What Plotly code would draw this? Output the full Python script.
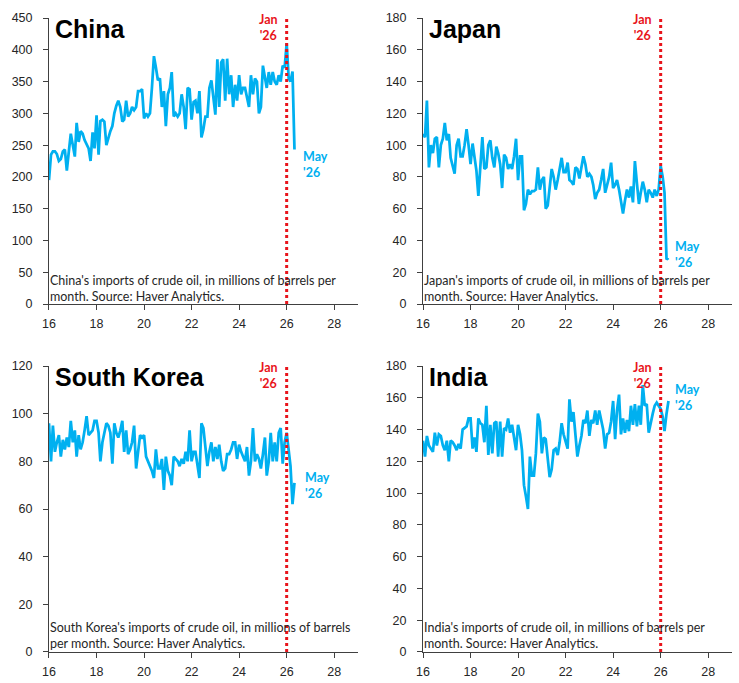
import plotly.graph_objects as go
import pandas as pd

# Monthly observations, Jan 2016 .. May 2026 (125 months)
dates = pd.date_range("2016-01-01", "2026-05-01", freq="MS")

china = [
    195, 235, 240, 240, 236, 225, 228, 240, 243, 210, 240, 268,
    250, 232, 285, 255, 272, 268, 258, 250, 245, 225, 270, 245,
    297, 235, 288, 290, 287, 250, 262, 272, 280, 300, 312, 320,
    310, 287, 290, 320, 295, 300, 310, 305, 310, 335, 335, 338,
    292, 300, 295, 300, 340, 390, 372, 352, 355, 310, 335, 280,
    330, 340, 365, 295, 300, 295, 300, 330, 310, 275, 340, 338,
    290, 318, 320, 300, 335, 262, 275, 295, 295, 340, 352, 325,
    298, 385, 310, 380, 385, 320, 386, 330, 360, 310, 345, 320,
    360, 330, 340, 340, 325, 310, 360, 330, 355, 350, 300, 310,
    375, 355, 340, 365, 345, 365, 350, 345, 360, 350, 375, 372,
    410, 355, 350, 366, 243,
]

japan = [
    107, 105, 128, 86, 100, 95, 104, 105, 86, 100, 104, 114,
    103, 107, 92, 86, 82, 100, 104, 93, 93, 100, 110, 100,
    88, 101, 92, 84, 68, 90, 105, 85, 86, 100, 103, 92,
    86, 99, 95, 88, 73, 94, 92, 85, 88, 85, 93, 104,
    78, 93, 93, 59, 63, 72, 69, 71, 71, 72, 86, 72,
    78, 80, 60, 62, 72, 85, 80, 72, 78, 84, 92, 83,
    83, 89, 78, 77, 75, 86, 85, 79, 86, 93, 88, 80,
    82, 80, 75, 66, 70, 72, 78, 85, 70, 76, 80, 89,
    73, 75, 78, 72, 64, 57, 65, 72, 67, 74, 64, 90,
    76, 63, 70, 77, 72, 64, 72, 70, 67, 72, 68, 72,
    87, 80, 70, 28, 29,
]

south_korea = [
    96, 80, 95, 84, 88, 91, 82, 89, 85, 90, 86, 97,
    88, 93, 82, 91, 85, 88, 93, 99, 91, 92, 93, 97,
    97, 92, 80, 88, 92, 96, 95, 92, 79, 96, 92, 90,
    93, 97, 84, 93, 83, 85, 88, 95, 77, 84, 91, 90,
    91, 82, 80, 78, 76, 73, 85, 77, 77, 81, 68, 82,
    76, 74, 70, 82, 81, 80, 78, 81, 79, 84, 80, 93,
    80, 84, 84, 78, 73, 96, 94, 86, 78, 84, 88, 80,
    86, 81, 87, 80, 76, 77, 83, 83, 85, 88, 88, 81,
    87, 84, 82, 80, 86, 74, 80, 94, 80, 83, 81, 77,
    83, 90, 74, 80, 92, 80, 88, 80, 92, 94, 79, 88,
    92, 84, 78, 62, 71,
]

india = [
    133, 123, 136, 130, 128, 126, 138, 130, 137, 136, 130, 127,
    133, 120, 133, 132, 130, 127, 131, 128, 140, 141, 142, 147,
    147, 128, 135, 126, 147, 144, 143, 132, 155, 124, 143, 125,
    144, 145, 123, 145, 123, 141, 140, 147, 138, 143, 136, 127,
    143, 137, 127, 105, 98, 90, 123, 111, 111, 125, 150, 145,
    125, 135, 134, 120, 110, 115, 127, 128, 124, 132, 144, 137,
    133, 128, 159, 145, 151, 135, 123, 130, 136, 146, 144, 152,
    136, 146, 144, 152, 143, 152, 145, 140, 128, 137, 138, 145,
    158, 134, 152, 162, 137, 147, 138, 146, 139, 155, 143, 156,
    142, 155, 143, 168, 155, 156, 138, 145, 150, 155, 157, 155,
    153, 148, 139, 150, 158,
]

countries = ["China", "Japan", "South Korea", "India"]
series = [china, japan, south_korea, india]
y_max = [450, 180, 120, 180]
y_dtick = [50, 20, 20, 20]
notes = [
    "China's imports of crude oil, in millions of barrels per<br>month. Source: Haver Analytics.",
    "Japan's imports of crude oil, in millions of barrels per<br>month. Source: Haver Analytics.",
    "South Korea's imports of crude oil, in millions of barrels<br>per month. Source: Haver Analytics.",
    "India's imports of crude oil, in millions of barrels per<br>month. Source: Haver Analytics.",
]
may_label_y = [220, 31, 70, 160]
marker_date = "2026-01-01"
x_range = ["2016-01-01", "2029-01-01"]

# layout geometry (paper fractions)
x_domains = [[0.0663, 0.4844], [0.5724, 0.9905], [0.0663, 0.4844], [0.5724, 0.9905]]
y_domains = [[0.5549, 0.9736], [0.5549, 0.9736], [0.0454, 0.4641], [0.0454, 0.4641]]
may_shift = [7, 5, 9, 5]

BLUE = "#00B0F0"
RED = "#E8141B"
AXIS = "#404040"
TICK_FONT = dict(family="Liberation Sans, Arial, sans-serif", size=12.5, color="#262626")

fig = go.Figure()
layout = dict(
    width=739, height=683,
    margin=dict(l=0, r=0, t=0, b=0, autoexpand=False),
    paper_bgcolor="white", plot_bgcolor="white",
    showlegend=False,
)
annotations = []
shapes = []

for i, (name, vals) in enumerate(zip(countries, series)):
    n = "" if i == 0 else str(i + 1)
    xa, ya = "x" + n, "y" + n
    fig.add_trace(go.Scatter(
        x=dates, y=vals, mode="lines", xaxis=xa, yaxis=ya,
        line=dict(color=BLUE, width=2.75), hoverinfo="skip",
    ))
    layout["xaxis" + n] = dict(
        domain=x_domains[i], anchor=ya, type="date", range=x_range,
        tick0="2016-01-01", dtick="M24", tickformat="%y",
        showgrid=False, zeroline=False, showline=True, linecolor=AXIS, linewidth=1,
        ticks="outside", ticklen=5, tickcolor=AXIS, tickfont=TICK_FONT,
        ticklabelstandoff=3, automargin=False,
    )
    layout["yaxis" + n] = dict(
        domain=y_domains[i], anchor=xa, range=[0, y_max[i]], dtick=y_dtick[i],
        showgrid=False, zeroline=False, showline=True, linecolor=AXIS, linewidth=1,
        ticks="outside", ticklen=5, tickcolor=AXIS, tickfont=TICK_FONT,
        ticklabelstandoff=8, automargin=False,
    )
    # dotted vertical marker at Jan '26
    shapes.append(dict(
        type="line", xref=xa, yref=ya + " domain", x0=marker_date, x1=marker_date,
        y0=0, y1=1, line=dict(color=RED, width=3, dash="dot"), layer="above",
    ))
    # title
    annotations.append(dict(
        text="<b>%s</b>" % name, xref=xa + " domain", yref=ya + " domain",
        x=0, y=1, xanchor="left", yanchor="middle", xshift=4, yshift=-11,
        showarrow=False, font=dict(family="Liberation Sans, Arial, sans-serif", size=25, color="black"),
    ))
    # Jan '26 label
    annotations.append(dict(
        text="<b>Jan<br>'26</b>", xref=xa, yref=ya + " domain",
        x=marker_date, y=1, xanchor="right", yanchor="middle", xshift=-7, yshift=-9,
        showarrow=False, align="center",
        font=dict(family="Lato, Liberation Sans, sans-serif", size=12.5, color=RED),
    ))
    # May '26 label
    annotations.append(dict(
        text="<b>May<br>'26</b>", xref=xa, yref=ya,
        x=dates[-1], y=may_label_y[i], xanchor="left", yanchor="middle", xshift=may_shift[i],
        showarrow=False, align="left",
        font=dict(family="Lato, Liberation Sans, sans-serif", size=12.5, color=BLUE),
    ))
    # note
    annotations.append(dict(
        text=notes[i], xref=xa + " domain", yref=ya + " domain",
        x=0, y=0, xanchor="left", yanchor="middle", xshift=-1, yshift=16,
        showarrow=False, align="left",
        font=dict(family="Lato, Liberation Sans, sans-serif", size=12.5, color="#262626"),
    ))

layout["annotations"] = annotations
layout["shapes"] = shapes
fig.update_layout(**layout)
fig.write_html("out.html")
